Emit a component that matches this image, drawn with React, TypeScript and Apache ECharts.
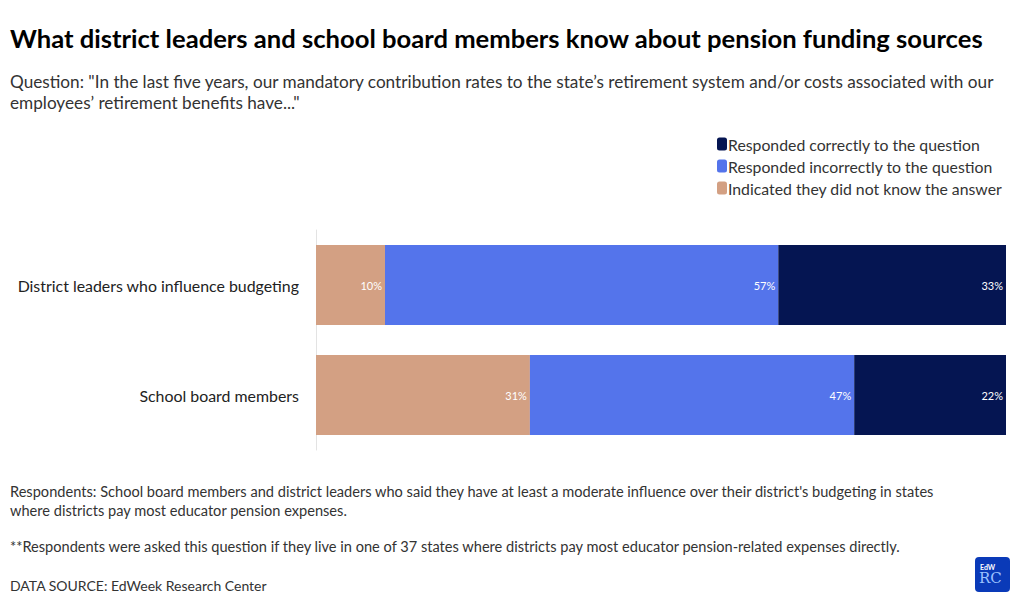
import React, { useEffect, useRef } from "react";
import * as echarts from "echarts";

const categories = ["District leaders who influence budgeting", "School board members"];
const dontKnow = [10, 31];
const incorrect = [57, 47];
const correct = [33, 22];
const seriesNames = [
  "Responded correctly to the question",
  "Responded incorrectly to the question",
  "Indicated they did not know the answer",
];

const FONT = "Lato, 'Noto Sans', sans-serif";

export default function App() {
  const ref = useRef<HTMLDivElement>(null);
  useEffect(() => {
    if (!ref.current) return;
    const chart = echarts.init(ref.current, null, { renderer: "svg" });
    const label = {
      show: true,
      position: "insideRight",
      color: "#ffffff",
      fontSize: 11,
      fontFamily: FONT,
      formatter: "{c}%",
      distance: 3,
    };
    chart.setOption({
      animation: false,
      textStyle: { fontFamily: FONT },
      legend: {
        orient: "vertical",
        left: 712,
        top: 131,
        itemWidth: 10,
        itemHeight: 13,
        itemGap: 6,
        icon: "roundRect",
        data: seriesNames,
        selectedMode: false,
        textStyle: { fontSize: 15.8, color: "#333", fontFamily: FONT, padding: [0, 0, 0, -4] },
      },
      grid: { left: 316, right: 14, top: 230, bottom: 156, containLabel: false },
      xAxis: { type: "value", min: 0, max: 100, show: false },
      yAxis: {
        type: "category",
        data: categories,
        inverse: true,
        axisLine: { show: true, lineStyle: { color: "#e3e3e3", width: 1 } },
        axisTick: { show: false },
        axisLabel: { fontSize: 15.9, color: "#222", fontFamily: FONT, margin: 17 },
      },
      series: [
        { name: seriesNames[2], type: "bar", stack: "t", data: dontKnow, barWidth: 80, itemStyle: { color: "#d3a083" }, label },
        { name: seriesNames[1], type: "bar", stack: "t", data: incorrect, barWidth: 80, itemStyle: { color: "#5474eb" }, label },
        { name: seriesNames[0], type: "bar", stack: "t", data: correct, barWidth: 80, itemStyle: { color: "#051552" }, label },
      ],
      graphic: [
        { type: "text", left: 10, top: 25, style: { text: "What district leaders and school board members know about pension funding sources", font: `bold 25.6px ${FONT}`, fill: "#000" } },
        { type: "text", left: 10, top: 71, style: { text: "Question: \"In the last five years, our mandatory contribution rates to the state\u2019s retirement system and/or costs associated with our\nemployees\u2019 retirement benefits have...\"", font: `17.2px ${FONT}`, fill: "#333", lineHeight: 21 } },
        { type: "text", left: 10, top: 482, style: { text: "Respondents: School board members and district leaders who said they have at least a moderate influence over their district's budgeting in states\nwhere districts pay most educator pension expenses.", font: `14.6px ${FONT}`, fill: "#333", lineHeight: 19 } },
        { type: "text", left: 10, top: 539, style: { text: "**Respondents were asked this question if they live in one of 37 states where districts pay most educator pension-related expenses directly.", font: `14.6px ${FONT}`, fill: "#333" } },
        { type: "text", left: 10, top: 578, style: { text: "DATA SOURCE: EdWeek Research Center", font: `14px ${FONT}`, fill: "#333" } },
        {
          type: "group", left: 975, top: 557,
          children: [
            { type: "rect", shape: { x: 0, y: 0, width: 35, height: 35, r: 4 }, style: { fill: "#0a3ab8" } },
            { type: "text", x: 5, y: 6, style: { text: "EdW", font: `bold 7px ${FONT}`, fill: "#ffffff" } },
            { type: "text", x: 4, y: 13, style: { text: "RC", font: "15px 'DejaVu Serif', serif", fill: "#9cc2ff" } },
          ],
        },
      ],
    });
    return () => chart.dispose();
  }, []);
  return <div ref={ref} style={{ width: 1020, height: 606, position: "absolute", left: 0, top: 0 }} />;
}
